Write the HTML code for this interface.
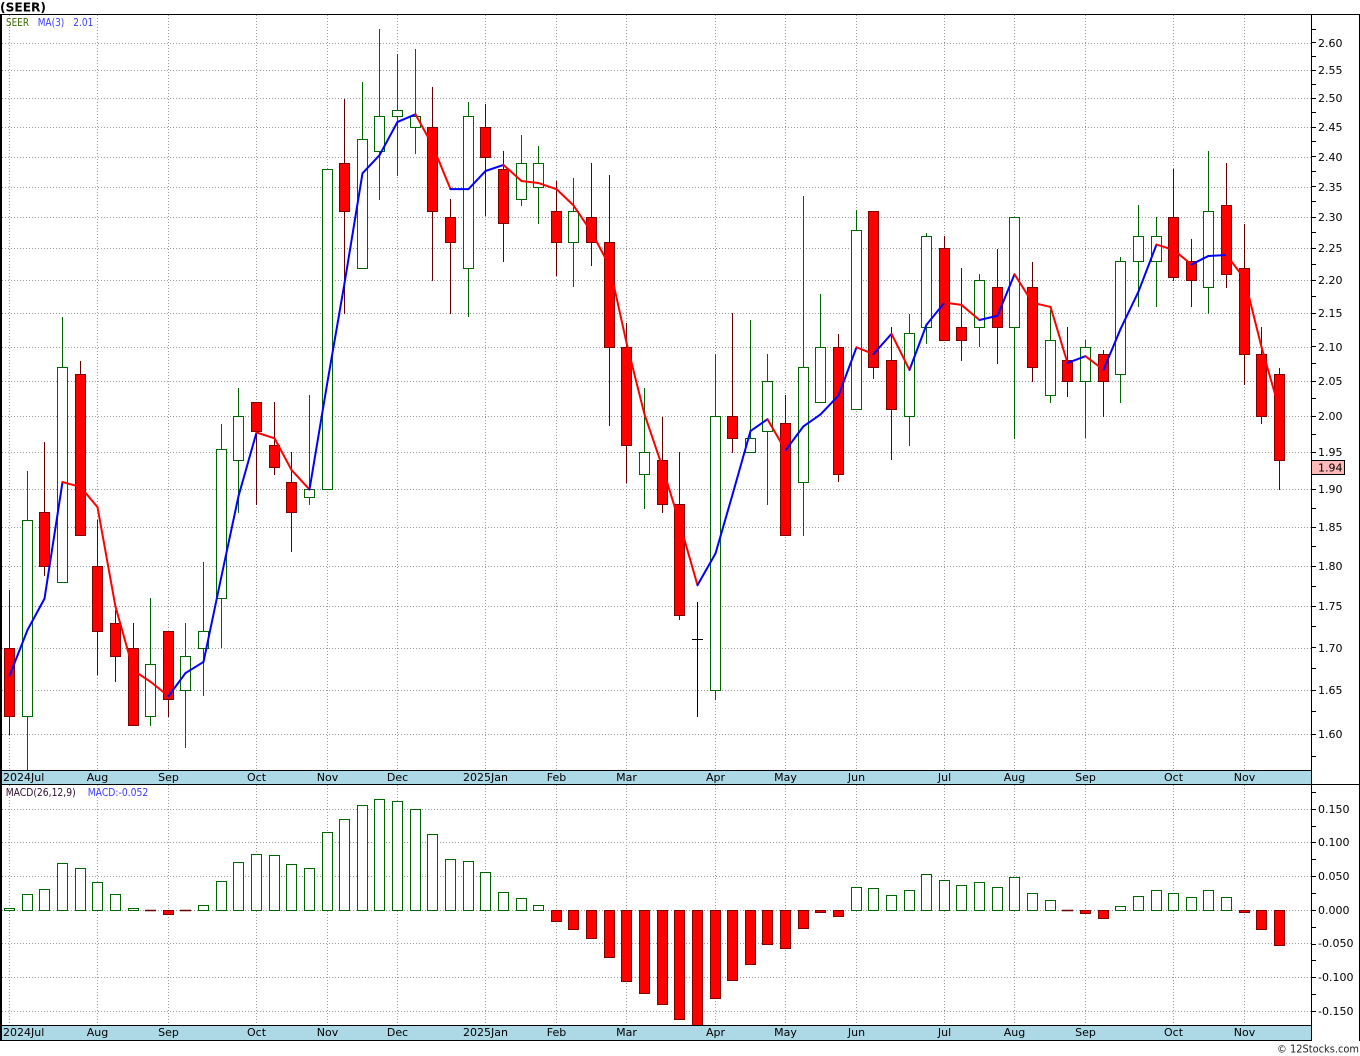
<!DOCTYPE html>
<html><head><meta charset="utf-8">
<style>
html,body{margin:0;padding:0;background:#fff;}
svg{display:block;}
text{font-family:"DejaVu Sans","Liberation Sans",sans-serif;}
</style></head><body>
<svg id="c" xmlns="http://www.w3.org/2000/svg" width="1360" height="1056" viewBox="0 0 1360 1056">
<defs>
<clipPath id="cpMain"><rect x="2" y="15" width="1309" height="755"/></clipPath>
<clipPath id="cpMacd"><rect x="2" y="785" width="1309" height="240"/></clipPath>
</defs>
<rect width="1360" height="1056" fill="#fff"/>

<!-- grid -->
<g id="grid" stroke="#9a9a9a" stroke-width="1" stroke-dasharray="1,2" fill="none">
<path d="M2 43.5H1311M2 70.5H1311M2 98.5H1311M2 127.5H1311M2 157.5H1311M2 187.5H1311M2 217.5H1311M2 248.5H1311M2 280.5H1311M2 313.5H1311M2 347.5H1311M2 381.5H1311M2 416.5H1311M2 452.5H1311M2 489.5H1311M2 527.5H1311M2 566.5H1311M2 606.5H1311M2 648.5H1311M2 690.5H1311M2 734.5H1311"/>
<path d="M2 809.5H1311M2 842.5H1311M2 876.5H1311M2 910.5H1311M2 943.5H1311M2 977.5H1311M2 1011.5H1311"/>
<path d="M9.5 15V770M97.5 15V770M168.5 15V770M256.5 15V770M327.5 15V770M397.5 15V770M485.5 15V770M556.5 15V770M626.5 15V770M715.5 15V770M785.5 15V770M856.5 15V770M944.5 15V770M1014.5 15V770M1085.5 15V770M1173.5 15V770M1244.5 15V770"/>
<path d="M9.5 785V1025M97.5 785V1025M168.5 785V1025M256.5 785V1025M327.5 785V1025M397.5 785V1025M485.5 785V1025M556.5 785V1025M626.5 785V1025M715.5 785V1025M785.5 785V1025M856.5 785V1025M944.5 785V1025M1014.5 785V1025M1085.5 785V1025M1173.5 785V1025M1244.5 785V1025"/>
</g>

<g id="candles" clip-path="url(#cpMain)"></g>
<g id="ma" clip-path="url(#cpMain)" fill="none" stroke-width="2" stroke-linecap="round"></g>
<g id="macd" clip-path="url(#cpMacd)"></g>

<!-- date bars -->
<rect x="2" y="771" width="1309" height="13" fill="#add8e6"/>
<rect x="2" y="1026" width="1309" height="14" fill="#add8e6"/>

<!-- borders -->
<g stroke="#000" stroke-width="1" fill="none">
<path d="M0 14.5H1360"/>
<path d="M0 770.5H1311"/>
<path d="M0 784.5H1360"/>
<path d="M0 1025.5H1311"/>
<path d="M0 1040.5H1311"/>
<path d="M1311.5 14V1041"/>
<path d="M1359.5 14V1041"/>
</g>
<rect x="0" y="14" width="2" height="1027" fill="#000"/>

<g id="ticks" stroke="#000" stroke-width="1"></g>

<!-- price axis labels -->
<g font-size="11" fill="#000">
<text x="1318" y="47">2.60</text>
<text x="1318" y="74">2.55</text>
<text x="1318" y="102">2.50</text>
<text x="1318" y="131">2.45</text>
<text x="1318" y="161">2.40</text>
<text x="1318" y="191">2.35</text>
<text x="1318" y="221">2.30</text>
<text x="1318" y="252">2.25</text>
<text x="1318" y="284">2.20</text>
<text x="1318" y="317">2.15</text>
<text x="1318" y="351">2.10</text>
<text x="1318" y="385">2.05</text>
<text x="1318" y="420">2.00</text>
<text x="1318" y="456">1.95</text>
<text x="1318" y="493">1.90</text>
<text x="1318" y="531">1.85</text>
<text x="1318" y="570">1.80</text>
<text x="1318" y="610">1.75</text>
<text x="1318" y="652">1.70</text>
<text x="1318" y="694">1.65</text>
<text x="1318" y="738">1.60</text>
</g>
<rect x="1311.5" y="460.5" width="33" height="14" fill="#ffb9b9" stroke="#000" stroke-width="1"/>
<text x="1318" y="471.5" font-size="11" fill="#000">1.94</text>

<!-- MACD axis labels -->
<g font-size="11" fill="#000">
<text x="1318" y="813">0.150</text>
<text x="1318" y="846">0.100</text>
<text x="1318" y="880">0.050</text>
<text x="1318" y="914">0.000</text>
<text x="1318" y="947">-0.050</text>
<text x="1318" y="981">-0.100</text>
<text x="1318" y="1015">-0.150</text>
</g>

<!-- date labels top -->
<g font-size="11" fill="#000" text-anchor="middle">
<text x="3" y="781" text-anchor="start">2024Jul</text>
<text x="97.5" y="781">Aug</text>
<text x="168.5" y="781">Sep</text>
<text x="256.5" y="781">Oct</text>
<text x="327.5" y="781">Nov</text>
<text x="397.5" y="781">Dec</text>
<text x="485.5" y="781">2025Jan</text>
<text x="556.5" y="781">Feb</text>
<text x="626.5" y="781">Mar</text>
<text x="715.5" y="781">Apr</text>
<text x="785.5" y="781">May</text>
<text x="856.5" y="781">Jun</text>
<text x="944.5" y="781">Jul</text>
<text x="1014.5" y="781">Aug</text>
<text x="1085.5" y="781">Sep</text>
<text x="1173.5" y="781">Oct</text>
<text x="1244.5" y="781">Nov</text>
</g>
<!-- date labels bottom -->
<g font-size="11" fill="#000" text-anchor="middle">
<text x="3" y="1036" text-anchor="start">2024Jul</text>
<text x="97.5" y="1036">Aug</text>
<text x="168.5" y="1036">Sep</text>
<text x="256.5" y="1036">Oct</text>
<text x="327.5" y="1036">Nov</text>
<text x="397.5" y="1036">Dec</text>
<text x="485.5" y="1036">2025Jan</text>
<text x="556.5" y="1036">Feb</text>
<text x="626.5" y="1036">Mar</text>
<text x="715.5" y="1036">Apr</text>
<text x="785.5" y="1036">May</text>
<text x="856.5" y="1036">Jun</text>
<text x="944.5" y="1036">Jul</text>
<text x="1014.5" y="1036">Aug</text>
<text x="1085.5" y="1036">Sep</text>
<text x="1173.5" y="1036">Oct</text>
<text x="1244.5" y="1036">Nov</text>
</g>

<!-- titles / legends -->
<text x="0" y="11.5" font-size="12" font-weight="bold" fill="#000" textLength="46" lengthAdjust="spacingAndGlyphs">(SEER)</text>
<text x="6" y="26" font-size="10.5" fill="#3a6a00" textLength="23" lengthAdjust="spacingAndGlyphs">SEER</text>
<text x="37.7" y="26" font-size="10.5" fill="#3c3cff" textLength="26.6" lengthAdjust="spacingAndGlyphs">MA(3)</text>
<text x="73.3" y="26" font-size="10.5" fill="#3c3cff" textLength="20" lengthAdjust="spacingAndGlyphs">2.01</text>
<text x="5.7" y="796" font-size="10.5" fill="#301030" textLength="70" lengthAdjust="spacingAndGlyphs">MACD(26,12,9)</text>
<text x="87.7" y="796" font-size="10.5" fill="#3c3cff" textLength="60.6" lengthAdjust="spacingAndGlyphs">MACD:-0.052</text>
<text x="1277" y="1052.5" font-size="11" fill="#222" textLength="82" lengthAdjust="spacingAndGlyphs">© 12Stocks.com</text>
</svg>

<script>
(function(){
var NS="http://www.w3.org/2000/svg";
function el(tag,a,p){var e=document.createElementNS(NS,tag);for(var k in a)e.setAttribute(k,a[k]);p.appendChild(e);return e;}
var F=Math.floor;
function X(i){return Math.round(9.1+17.637*i);}
var C=[
['d',590,648.3,716.7,734.3],
['u',471,520.3,716.7,780],
['d',442.3,512.3,566.3,575],
['u',317.3,367.3,582.3,582.3],
['d',361,374.3,535.3,535.3],
['d',520,566.3,631.3,674],
['d',610,623.3,656.3,681.7],
['d',623.3,648.3,725.7,725.7],
['u',598.3,664.3,716.3,725.7],
['d',631.3,631.3,699,716.7],
['u',623.3,656.3,690.3,747.7],
['u',562.3,631.3,648.3,695],
['u',424.3,449.7,598.3,647.7],
['u',388.3,416.7,460.3,512.7],
['d',402.3,402.3,431.3,504.7],
['d',402.3,445.3,467.3,474.7],
['d',452.3,482.3,512.3,551.7],
['u',395,489.3,497.3,504.7],
['u',169.7,169.7,489.3,489.3],
['d',99,163.3,211.7,313.3],
['u',82,139.3,268.3,268.3],
['u',29.3,116.3,151.3,199],
['u',54,110.3,116.3,175],
['u',49.3,116.3,127.3,153.7],
['d',87.3,127.3,211.7,280],
['d',199,217.3,242.3,313.3],
['u',102.3,116.3,268.3,316.7],
['d',104,127.3,157.3,215],
['d',151.3,169.3,223.3,261.7],
['u',135,163.3,199,205.7],
['u',146,163.3,187.3,223.3],
['d',181,211.7,242.3,275],
['u',178.3,211.7,242.3,286.7],
['d',163.3,217.3,242.3,265],
['d',175,242.3,347.3,425],
['d',323,347.3,445.7,482.7],
['u',388.1,452.5,474.5,508.6],
['d',417.1,460.4,504.5,512.8],
['d',452.5,504.5,615.3,619.8],
['x',602.9,639.4,639.4,716.1],
['u',354.4,416.4,690.3,699.6],
['d',313.1,416.4,438.4,452.5],
['u',320.3,438.4,452.5,452.5],
['u',354.4,381.6,431.5,504.5],
['d',395,423.6,535.4,535.4],
['u',196.5,367.8,482.4,535.4],
['u',294.2,347.5,402.3,402.3],
['d',334.1,347.5,474.5,481.8],
['u',210.9,230.5,409.5,409.5],
['d',211.6,211.6,367.8,378.8],
['d',327.2,360.6,409.5,459.7],
['u',314.1,333.4,416.4,445.6],
['u',233.3,236.7,327.2,343.8],
['d',236.3,248.3,340.3,340.3],
['d',268,327.3,340.3,360.7],
['u',274,280.3,327.3,346.7],
['d',249,287,327.3,363.7],
['u',217.3,217.3,327.3,438.3],
['d',262,287,367.7,381.3],
['u',310,340.3,395.3,402.7],
['d',327.3,360.3,381.3,396],
['u',340.3,347.3,381.3,437.7],
['d',350.3,354.3,381.3,416.3],
['u',257,261.3,374.3,402.7],
['u',205.3,236.3,261.3,306.3],
['u',217.3,236.3,261.3,306.3],
['d',169,217.3,277.3,280.3],
['d',239,261.3,280.3,306.3],
['u',151,211.3,287.3,313.3],
['d',163,205.3,274.3,287.3],
['d',224.3,268.3,354.3,384.7],
['d',327.3,354.3,416.3,423.3],
['d',368.3,374.3,460,489.3]
];
var M=[908.3,894,889.3,863.3,868.3,882.3,894,908.3,911,914.7,911.7,905,881.3,862.3,854.3,855.3,864.3,868.3,832.3,819,805.3,799.3,801.3,809.3,834.3,859.3,861.3,872.3,892.3,898.3,905.3,921.3,929.3,938.3,957.3,981.3,993.3,1004.3,1019.3,1030,998.3,980.3,964.3,944.3,948.3,928.3,912.3,916.3,887.3,888.3,895.3,890.3,874.3,880.3,885.3,882.3,887.3,877.3,893.3,900.3,911,913.3,918.3,906.3,896.3,890.3,893.3,897.3,890.3,897.3,912.3,929.3,945.3];

var G='#006400', RS='#800000', RW='#660000';
var gc=document.getElementById('candles');
C.forEach(function(c,i){
  var x=X(i)+0.5,t=c[0];
  if(t==='x'){
    el('line',{x1:x,x2:x,y1:F(c[1]),y2:F(c[4])+1,stroke:'#000','stroke-width':1},gc);
    el('line',{x1:x-5.5,x2:x+5.5,y1:F(c[2])+0.5,y2:F(c[2])+0.5,stroke:'#000','stroke-width':1},gc);
    return;
  }
  var wc=t==='u'?G:RW;
  el('line',{x1:x,x2:x,y1:F(c[1]),y2:F(c[4])+1,stroke:wc,'stroke-width':1},gc);
  var top=F(c[2]),bot=F(c[3]);
  el('rect',{x:x-5,y:top+0.5,width:10,height:Math.max(bot-top,1),fill:t==='u'?'#fff':'#ff0000',stroke:t==='u'?G:RS,'stroke-width':1},gc);
});

function P(y){return 2.6*Math.exp(-(y-42.7)/1424);}
function Y(p){return 42.7+1424*Math.log(2.6/p);}
var cl=C.map(function(c){return P(c[0]==='d'?c[3]:c[2]);});
var ma=[675.7,630];
for(var i=2;i<C.length;i++){ma[i]=Y((cl[i]+cl[i-1]+cl[i-2])/3);}
var gm=document.getElementById('ma');
for(var i=1;i<ma.length;i++){
  var col=ma[i]<=ma[i-1]?'#0000ff':'#ff0000';
  el('line',{x1:X(i-1)+0.5,y1:ma[i-1],x2:X(i)+0.5,y2:ma[i],stroke:col},gm);
}

var gd=document.getElementById('macd');
var Z=910;
M.forEach(function(v,i){
  var x=X(i)+0.5,r=F(v);
  if(r<Z-1){
    el('rect',{x:x-5,y:r+0.5,width:10,height:Z-r,fill:'#fff',stroke:G,'stroke-width':1},gd);
  }else if(r>Z+1){
    el('rect',{x:x-5,y:Z+0.5,width:10,height:r-Z,fill:'#ff0000',stroke:RS,'stroke-width':1},gd);
  }else{
    el('line',{x1:x-5.5,x2:x+5.5,y1:Z+0.5,y2:Z+0.5,stroke:RW,'stroke-width':1.5},gd);
  }
});

var gt=document.getElementById('ticks');
for(var k=0;k<=42;k++){
  var p=1.575+0.025*k;
  var y=Y(p);
  if(y>15&&y<770){var yy=F(y)+0.5;el('line',{x1:1311,x2:1316,y1:yy,y2:yy},gt);}
}
for(var k=-7;k<=7;k++){
  var v=0.025*k;
  var y=910.3-674*v;
  if(y>785&&y<1025){var yy=F(y)+0.5;el('line',{x1:1311,x2:1316,y1:yy,y2:yy},gt);}
}
})();
</script>
</body></html>
